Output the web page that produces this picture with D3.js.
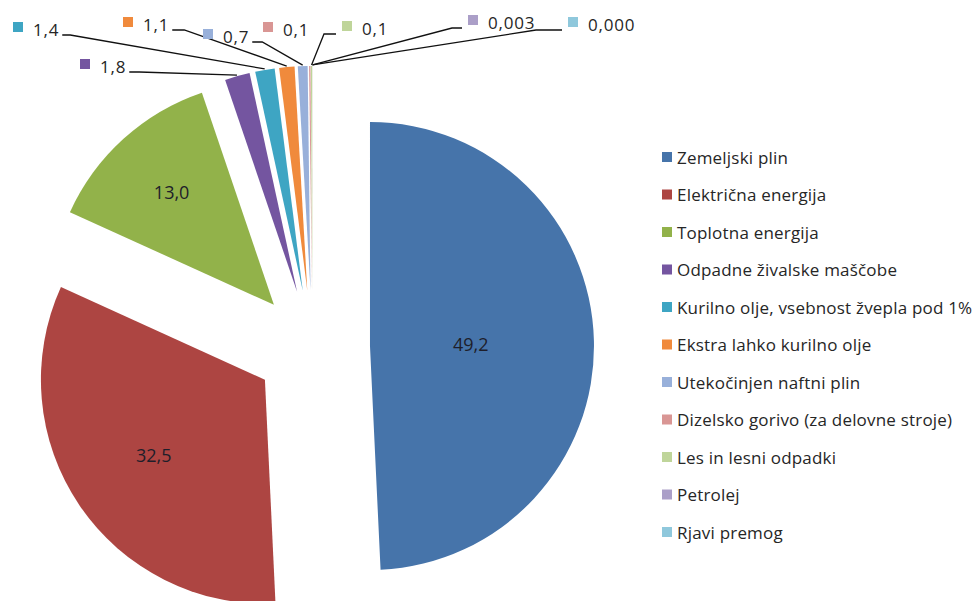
<!DOCTYPE html>
<html>
<head>
<meta charset="utf-8">
<script src="https://cdn.jsdelivr.net/npm/d3@7"></script>
<style>
  html, body { margin: 0; padding: 0; background: #fff; }
  svg { display: block; }
  text { font-family: "Open Sans", "Noto Sans", sans-serif; fill: #262626; }
</style>
</head>
<body>
<svg id="chart" width="975" height="601"></svg>
<script>
// ---- data ----
const categories = [
  "Zemeljski plin",
  "Električna energija",
  "Toplotna energija",
  "Odpadne živalske maščobe",
  "Kurilno olje, vsebnost žvepla pod 1%",
  "Ekstra lahko kurilno olje",
  "Utekočinjen naftni plin",
  "Dizelsko gorivo (za delovne stroje)",
  "Les in lesni odpadki",
  "Petrolej",
  "Rjavi premog"
];
const values = [49.2, 32.5, 13.0, 1.8, 1.4, 1.1, 0.7, 0.1, 0.1, 0.003, 0.000];
const valueLabels = ["49,2", "32,5", "13,0", "1,8", "1,4", "1,1", "0,7", "0,1", "0,1", "0,003", "0,000"];

// ---- style / layout ----
const colors = ["#4674aa", "#ad4542", "#92b24a", "#7455a0", "#3ea5c3", "#f08a3c",
                "#98b0da", "#d99694", "#bfd59a", "#ab9fc8", "#8fc8dc"];
const cx = 312.5, cy = 347.4, R = 224, explode = 57.5;
// inside label radial fraction for large slices
const insideLabelFrac = [0.45, 0.6, 0.68];
// outside label layout for small slices (index -> x of marker, text centre y, side, tail)
const outsideLayout = {
  3:  {x: 80,  y: 66, side: "left",  tail: 10},
  4:  {x: 13,  y: 29, side: "left",  tail: 8},
  5:  {x: 123, y: 24, side: "left",  tail: 12},
  6:  {x: 203, y: 36, side: "left",  tail: 10},
  7:  {x: 263, y: 29, side: "none"},
  8:  {x: 342, y: 28, side: "right", tail: 12},
  9:  {x: 468, y: 22, side: "right", tail: 10},
  10: {x: 568, y: 24, side: "right", tail: 26}
};
const legendX = 662, legendY0 = 157, legendStep = 37.5;

const svg = d3.select("#chart");

const pie = d3.pie().sort(null).value(d => d).startAngle(0).endAngle(2 * Math.PI);
const arcs = pie(values);
const arcGen = d3.arc().innerRadius(0).outerRadius(R);

function dir(a) { return [Math.sin(a), -Math.cos(a)]; }

const slices = arcs.map((a, i) => {
  const mid = (a.startAngle + a.endAngle) / 2;
  const d = dir(mid);
  return {a, i, mid, ox: cx + explode * d[0], oy: cy + explode * d[1]};
});

// slices
svg.append("g").selectAll("path")
  .data(slices)
  .join("path")
  .attr("transform", s => `translate(${s.ox},${s.oy})`)
  .attr("d", s => arcGen(s.a))
  .attr("fill", s => colors[s.i]);

// inside labels
svg.append("g").selectAll("text")
  .data(slices.filter(s => s.i < 3))
  .join("text")
  .attr("x", s => s.ox + R * insideLabelFrac[s.i] * Math.sin(s.mid))
  .attr("y", s => s.oy - R * insideLabelFrac[s.i] * Math.cos(s.mid))
  .attr("text-anchor", "middle")
  .attr("dominant-baseline", "central")
  .style("font-size", "18px")
  .style("fill", "#1e1e2a")
  .text(s => valueLabels[s.i]);

// outside labels with markers and leader lines
const outG = svg.append("g");
slices.filter(s => s.i >= 3).forEach(s => {
  const L = outsideLayout[s.i];
  outG.append("rect")
    .attr("x", L.x).attr("y", L.y - 2 - 5)
    .attr("width", 10).attr("height", 10)
    .attr("fill", colors[s.i]);
  const t = outG.append("text")
    .attr("x", L.x + 20).attr("y", L.y)
    .attr("dominant-baseline", "central")
    .style("font-size", "17px")
    .style("letter-spacing", "0.8px")
    .text(valueLabels[s.i]);
  if (L.side === "none") return;
  const tw = t.node().getComputedTextLength();
  const d = dir(s.mid);
  const px = s.ox + (R + 1) * d[0], py = s.oy + (R + 1) * d[1];
  const ly = L.y + 6;
  let pts;
  if (L.side === "left") {
    const xe = L.x + 20 + tw + 3;
    pts = [[xe, ly], [xe + L.tail, ly], [px, py]];
  } else {
    const xs = L.x - 6;
    pts = [[xs, ly], [xs - L.tail, ly], [px, py]];
  }
  outG.append("path")
    .attr("d", d3.line()(pts))
    .attr("fill", "none")
    .attr("stroke", "#111")
    .attr("stroke-width", 1.3);
});

// legend
const leg = svg.append("g").selectAll("g")
  .data(categories)
  .join("g")
  .attr("transform", (d, i) => `translate(${legendX},${legendY0 + i * legendStep})`);
leg.append("rect")
  .attr("x", 0).attr("y", -5).attr("width", 10).attr("height", 10)
  .attr("fill", (d, i) => colors[i]);
leg.append("text")
  .attr("x", 15).attr("y", 0)
  .attr("dominant-baseline", "central")
  .style("font-size", "17px")
  .style("letter-spacing", "0.2px")
  .text(d => d);
</script>
</body>
</html>
